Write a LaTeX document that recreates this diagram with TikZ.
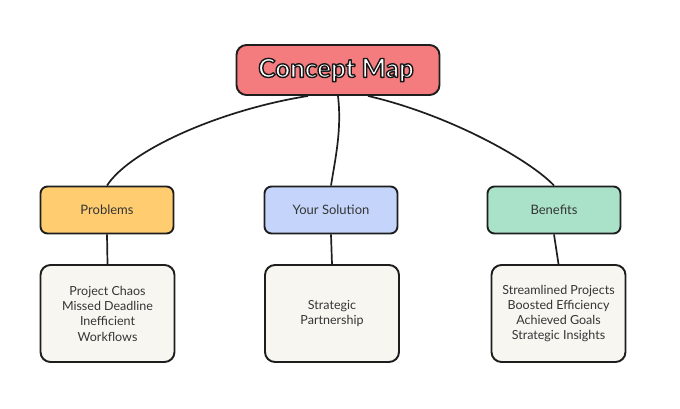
\documentclass[tikz,border=0pt]{standalone}
\usepackage{fontspec}
\setmainfont{Lato}
\usetikzlibrary{calc,backgrounds}
\definecolor{titlefill}{HTML}{F47C7E}
\definecolor{probfill}{HTML}{FFCC70}
\definecolor{solfill}{HTML}{C4D4FA}
\definecolor{benfill}{HTML}{A9E2C9}
\definecolor{detfill}{HTML}{F8F6F0}
\definecolor{ink}{HTML}{1E1E1E}
\newcommand{\outlinedtext}[1]{\special{pdf:literal direct 2 Tr 1.4 w 1 j 0.1 0.1 0.1 RG 1 1 1 rg}#1\special{pdf:literal direct 0 Tr 0 w}}
\begin{document}
\begin{tikzpicture}[x=1pt,y=-1pt,
  box/.style={draw=ink,line width=1.9pt,rounded corners=7pt,inner sep=0pt,font=\fontsize{13}{16}\selectfont,text=ink!90},
  catbox/.style={box,minimum width=133pt,minimum height=47pt},
  detbox/.style={box,fill=detfill,minimum width=134pt,minimum height=97pt,align=center,rounded corners=10pt,font=\fontsize{12.5}{15.3}\selectfont},
  link/.style={draw=ink,line width=1.7pt}]
\useasboundingbox (0,0) rectangle (680,409);
\node[box,fill=titlefill,minimum width=203pt,minimum height=50pt,rounded corners=10pt] (title) at (338,70) {};
\node[font=\fontsize{26}{30}\selectfont\bfseries] (titletext) at (336,70) {\outlinedtext{Concept Map}};
\node[catbox,fill=probfill] (prob) at (107,210) {Problems};
\node[catbox,fill=solfill] (sol) at (331,210) {Your Solution};
\node[catbox,fill=benfill] (ben) at (554,210) {Benefits};
\node[detbox] (probd) at (107.5,313.5) {Project Chaos\\Missed Deadline\\Inefficient\\Workflows};
\node[detbox] (sold) at (332,313.5) {Strategic\\Partnership};
\node[detbox] (bend) at (558.5,313.5) {Streamlined Projects\\Boosted Efficiency\\Achieved Goals\\Strategic Insights};
\begin{scope}[on background layer]
\fill[white] (0,0) rectangle (680,409);
\path (title.south) ++(-30,0) coordinate (tl);
\path (title.south) ++(30,0) coordinate (tr);
\draw[link] (tl) .. controls (220,110) and (130,150) .. (prob.north);
\draw[link] (title.south) .. controls (342,130) and (335,160) .. (sol.north);
\draw[link] (tr) .. controls (450,115) and (530,160) .. (ben.north);
\draw[link] (prob.south) -- (probd.north);
\draw[link] (sol.south) -- (sold.north);
\draw[link] (ben.south) -- (bend.north);
\end{scope}
\end{tikzpicture}
\end{document}
